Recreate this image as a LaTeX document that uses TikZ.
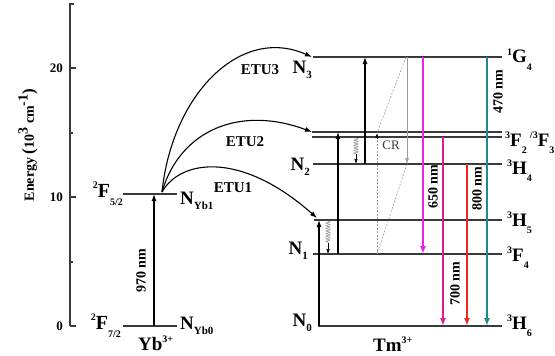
\documentclass[tikz,border=0pt]{standalone}
\usepackage{fontspec}
\setmainfont{Liberation Serif}
\usetikzlibrary{arrows.meta,decorations.pathmorphing}
\definecolor{lvlc}{HTML}{3A3A3A}
\definecolor{c650}{HTML}{EE22EE}
\definecolor{c700}{HTML}{E21A90}
\definecolor{c800}{HTML}{EE2626}
\definecolor{c470}{HTML}{1B8C8C}
\definecolor{crc}{HTML}{9A9A9A}
\newcommand{\Tsup}[1]{\raisebox{0.42em}{\fontsize{10}{10}\selectfont #1}}
\newcommand{\Tsub}[1]{\raisebox{-0.42em}{\fontsize{10}{10}\selectfont #1}}
\newcommand{\Nsub}[1]{\raisebox{-0.3em}{\fontsize{11}{11}\selectfont #1}}
\begin{document}
\begin{tikzpicture}[x=1pt,y=-1pt,
 lvl/.style={draw=lvlc,line width=1.3pt},
 ax/.style={draw=lvlc,line width=1.1pt},
 uparr/.style={draw=black,line width=1.2pt,-{Latex[length=7pt,width=5pt]}},
 etu/.style={draw=black,line width=1.1pt,-{Latex[length=7pt,width=5pt]}},
 emis/.style={line width=1.8pt,-{Latex[length=8pt,width=6pt]}},
 wavy/.style={draw=crc,line width=0.6pt,decorate,decoration={snake,amplitude=2.2pt,segment length=2.6pt}},
 wtip/.style={draw=black,line width=0.6pt,-{Latex[length=5pt,width=3.5pt]}},
 crl/.style={draw=crc,line width=0.6pt},
 crd/.style={draw=crc,line width=0.6pt,dash pattern=on 2pt off 1.5pt},
 big/.style={inner sep=0pt,font=\fontsize{19}{19}\selectfont\bfseries},
 etul/.style={inner sep=0pt,font=\fontsize{15}{15}\selectfont\bfseries},
 wl/.style={inner sep=0pt,rotate=90,font=\fontsize{14}{14}\selectfont\bfseries},
 tickl/.style={inner sep=0pt,font=\fontsize{13}{13}\selectfont\bfseries}
]
\useasboundingbox (0,0) rectangle (555,356);

% axis
\coordinate (axT) at (70,4);
\coordinate (axB) at (70,326);
\draw[ax] (74,4) -- (axT) -- (axB);
\foreach \yy/\ll in {326/6,262/3,197/6,133/3,68/6}{\draw[ax] (70,\yy) -- ++(\ll,0);}
\node[tickl,anchor=east] (t20) at (63,68) {20};
\node[tickl,anchor=east] (t10) at (63,197) {10};
\node[tickl,anchor=east] (t0) at (63,326) {0};
\node[inner sep=0pt,rotate=90,font=\fontsize{14}{14}\selectfont\bfseries] (elab) at (28,145)
 {Energy {\fontsize{17}{17}\selectfont(}10\raisebox{0.45em}{3} cm\raisebox{0.45em}{-1}{\fontsize{17}{17}\selectfont)}};

% Yb levels
\coordinate (F5a) at (123,194); \coordinate (F5b) at (177,194);
\coordinate (F7a) at (123,326); \coordinate (F7b) at (177,326);
\draw[lvl] (F5a) -- (F5b);
\draw[lvl] (F7a) -- (F7b);
\node[big,anchor=base east,font=\fontsize{20}{20}\selectfont\bfseries] (lF5) at (123,197) {\Tsup{2}F\Tsub{5/2}};
\node[big,anchor=base east,font=\fontsize{20}{20}\selectfont\bfseries] (lF7) at (121,329) {\Tsup{2}F\Tsub{7/2}};
\node[big,anchor=base west] (NYb1) at (180,204) {N\Nsub{Yb1}};
\node[big,anchor=base west] (NYb0) at (180,329) {N\Nsub{Yb0}};
\node[big,anchor=base west] (Yb) at (138,350) {Yb\Tsup{3+}};
\coordinate (a970s) at (154,326); \coordinate (a970e) at (154,194);
\draw[uparr] (a970s) -- (a970e);
\node[wl] (l970) at (141,271) {970 nm};

% Tm levels
\coordinate (G4a) at (313,57);  \coordinate (G4b) at (502,57);
\coordinate (F2a) at (312,132); \coordinate (F2b) at (502,132);
\coordinate (F3a) at (312,137); \coordinate (F3b) at (502,137);
\coordinate (H4a) at (313,164); \coordinate (H4b) at (502,164);
\coordinate (H5a) at (314,220); \coordinate (H5b) at (502,220);
\coordinate (F4a) at (313,254); \coordinate (F4b) at (502,254);
\coordinate (H6a) at (318,326); \coordinate (H6b) at (502,326);
\foreach \p in {G4,F2,F3,H4,H5,F4,H6}{\draw[lvl] (\p a) -- (\p b);}

\node[big,anchor=base east] (N3) at (312,73) {N\Nsub{3}};
\node[big,anchor=base east] (N2) at (310,170) {N\Nsub{2}};
\node[big,anchor=base east] (N1) at (308,254) {N\Nsub{1}};
\node[big,anchor=base east] (N0) at (312,326) {N\Nsub{0}};

\node[big,anchor=base west] (lG4) at (507,63) {\Tsup{1}G\Tsub{4}};
\node[big,anchor=base west] (lF23) at (505,146) {\Tsup{3}F\Tsub{2}\,\Tsup{/3}F\Tsub{3}};
\node[big,anchor=base west] (lH4) at (507,174) {\Tsup{3}H\Tsub{4}};
\node[big,anchor=base west] (lH5) at (507,226) {\Tsup{3}H\Tsub{5}};
\node[big,anchor=base west] (lF4) at (507,261) {\Tsup{3}F\Tsub{4}};
\node[big,anchor=base west] (lH6) at (507,329) {\Tsup{3}H\Tsub{6}};
\node[big,anchor=base west] (Tm) at (373,351) {Tm\Tsup{3+}};

% ETU curves
\coordinate (src) at (162,192);
\coordinate (e3) at (312,57);
\coordinate (e2) at (312,132);
\coordinate (e1) at (317,218);
\draw[etu] (src) .. controls (172,95) and (240,25) .. (e3);
\draw[etu] (src) .. controls (180,130) and (240,105) .. (e2);
\draw[etu] (src) .. controls (180,160) and (240,150) .. (e1);
\node[etul] (ETU3) at (260,70) {ETU3};
\node[etul] (ETU2) at (245,142) {ETU2};
\node[etul] (ETU1) at (233,188) {ETU1};

% Tm upward arrows
\coordinate (u1s) at (319,326); \coordinate (u1e) at (319,220);
\coordinate (u2s) at (338,254); \coordinate (u2e) at (338,132);
\coordinate (u3s) at (365,164); \coordinate (u3e) at (365,57);
\draw[uparr] (u1s) -- (u1e);
\draw[uparr] (u2s) -- (u2e);
\draw[uparr] (u3s) -- (u3e);

% nonradiative relaxations
\coordinate (w1a) at (328,221); \coordinate (w1m) at (328,243); \coordinate (w1b) at (328,254);
\coordinate (w2a) at (356,138); \coordinate (w2m) at (356,154); \coordinate (w2b) at (356,164);
\draw[wavy] (w1a) -- (w1m);
\draw[wtip] (w1m) -- (w1b);
\draw[wavy] (w2a) -- (w2m);
\draw[wtip] (w2m) -- (w2b);

% cross relaxation
\coordinate (cr1) at (406,57); \coordinate (cr2) at (377,133);
\coordinate (cr3) at (377,254); \coordinate (cr4) at (377,139);
\coordinate (cr5) at (407,57); \coordinate (cr6) at (407,164);
\draw[crd] (cr1) -- (cr2);
\draw[crd] (cr3) -- (cr4);
\draw[crd] (cr6) -- (cr3);
\draw[draw=black,line width=0.6pt,-{Latex[length=5pt,width=3.5pt]}] (cr4) -- (cr2);
\draw[crl,-{Latex[length=6pt,width=4pt]}] (cr5) -- (cr6);
\node[inner sep=0pt,font=\fontsize{13}{13}\selectfont,text=lvlc] (CR) at (391,145) {CR};

% emissions
\coordinate (m650s) at (423,57);  \coordinate (m650e) at (423,254);
\coordinate (m700s) at (443,137); \coordinate (m700e) at (443,326);
\coordinate (m800s) at (467,164); \coordinate (m800e) at (467,326);
\coordinate (m470s) at (487,57);  \coordinate (m470e) at (487,326);
\draw[emis,draw=c650,color=c650] (m650s) -- (m650e);
\draw[emis,draw=c700,color=c700] (m700s) -- (m700e);
\draw[emis,draw=c800,color=c800] (m800s) -- (m800e);
\draw[emis,draw=c470,color=c470] (m470s) -- (m470e);
\node[wl] (l650) at (433,187) {650 nm};
\node[wl] (l700) at (455,284) {700 nm};
\node[wl] (l800) at (477,189) {800 nm};
\node[wl] (l470) at (498,92) {470 nm};
\end{tikzpicture}
\end{document}
